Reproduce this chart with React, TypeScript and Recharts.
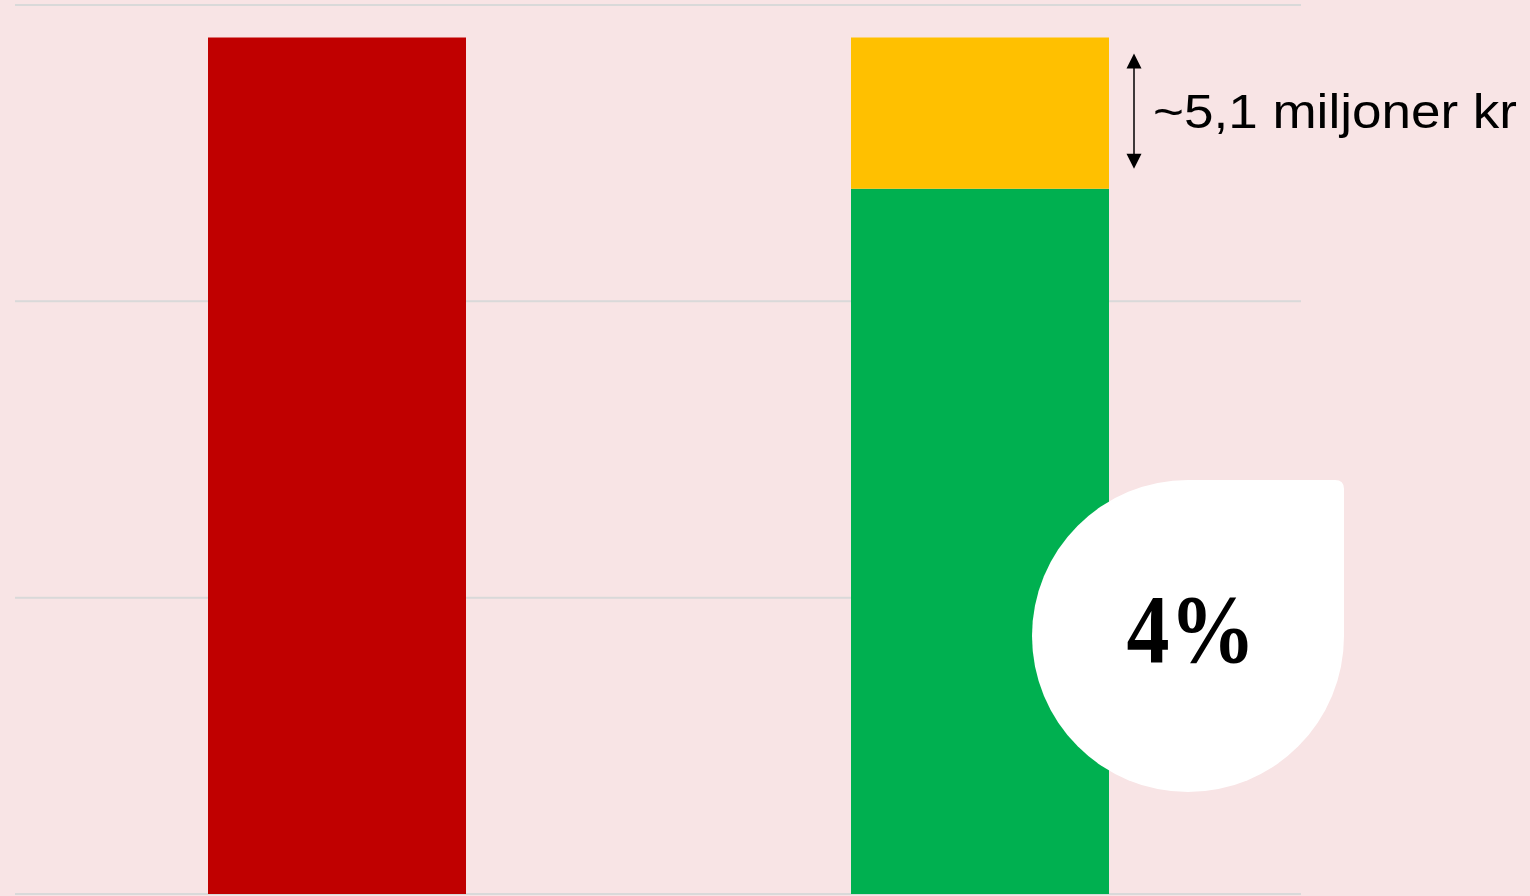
import { BarChart, Bar, XAxis, YAxis, CartesianGrid, LabelList } from 'recharts';

const categories = ['Före', 'Efter'];
const redValues = [28.9, 0];
const greenValues = [0, 23.8];
const yellowValues = [0, 5.1];
const yTicks = [0, 10, 20, 30];
const noteText = '~5,1 miljoner kr';
const bubbleText = '4%';

const data = categories.map((name, i) => ({
  name,
  red: redValues[i],
  green: greenValues[i],
  yellow: yellowValues[i],
}));

const BG = '#F8E4E5';

function YellowNote(props: any) {
  const { x, y, width, height } = props;
  if (!height || height < 2) return null;
  const ax = x + width + 25;
  const top = y + 16;
  const bottom = y + height - 20;
  return (
    <g>
      <line x1={ax} y1={top + 12} x2={ax} y2={bottom - 12} stroke="#000" strokeWidth={1.5} />
      <polygon points={`${ax},${top} ${ax - 7.5},${top + 15} ${ax + 7.5},${top + 15}`} fill="#000" />
      <polygon points={`${ax},${bottom} ${ax - 7.5},${bottom - 15} ${ax + 7.5},${bottom - 15}`} fill="#000" />
      <text
        x={ax + 19}
        y={y + height / 2 + 15}
        fontFamily="'Liberation Sans', Arial, sans-serif"
        fontSize={48}
        textLength={364}
        lengthAdjust="spacingAndGlyphs"
        fill="#000"
      >
        {noteText}
      </text>
    </g>
  );
}

function GreenBubble(props: any) {
  const { x, y, width, height } = props;
  if (!height || height < 2) return null;
  const r = 156;
  const rc = 9;
  const cx = x + width + 79;
  const cy = y + height - 258;
  const d = [
    `M ${cx} ${cy - r}`,
    `L ${cx + r - rc} ${cy - r}`,
    `Q ${cx + r} ${cy - r} ${cx + r} ${cy - r + rc}`,
    `L ${cx + r} ${cy}`,
    `A ${r} ${r} 0 1 1 ${cx} ${cy - r}`,
    'Z',
  ].join(' ');
  return (
    <g>
      <path d={d} fill="#FFFFFF" />
      <text
        x={cx + 3}
        y={cy + 26}
        textAnchor="middle"
        fontFamily="'Liberation Serif', 'Times New Roman', serif"
        fontWeight="bold"
        fontSize={97}
        textLength={129}
        lengthAdjust="spacingAndGlyphs"
        fill="#000"
      >
        {bubbleText}
      </text>
    </g>
  );
}

export default function App() {
  return (
    <div style={{ position: 'absolute', left: 0, top: 0, width: 1530, height: 896, background: BG }}>
      <BarChart
        width={1530}
        height={896}
        data={data}
        margin={{ top: 5, right: 229, left: 15, bottom: 2 }}
        barSize={258}
      >
        <CartesianGrid vertical={false} stroke="#D9D9D9" strokeWidth={2} />
        <XAxis dataKey="name" hide />
        <YAxis hide domain={[0, 30]} ticks={yTicks} />
        <Bar dataKey="red" stackId="s" fill="#C00000" isAnimationActive={false} />
        <Bar dataKey="green" stackId="s" fill="#00B050" isAnimationActive={false}>
          <LabelList dataKey="green" content={GreenBubble} />
        </Bar>
        <Bar dataKey="yellow" stackId="s" fill="#FFC000" isAnimationActive={false}>
          <LabelList dataKey="yellow" content={YellowNote} />
        </Bar>
      </BarChart>
    </div>
  );
}
